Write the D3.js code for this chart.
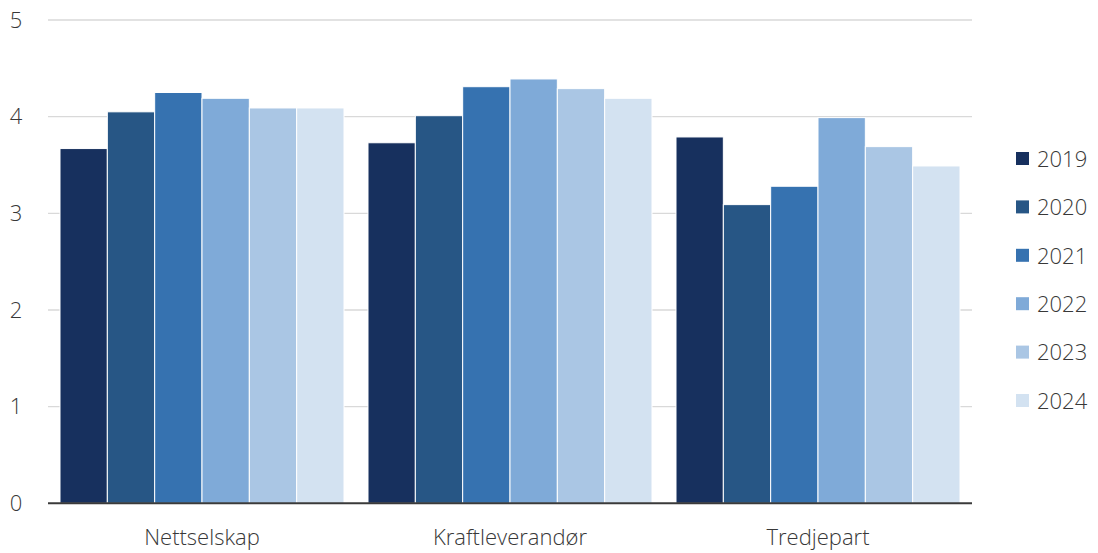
<!DOCTYPE html>
<html>
<head>
<meta charset="utf-8">
<script src="https://cdn.jsdelivr.net/npm/d3@7"></script>
<style>
  html, body { margin: 0; padding: 0; background: #ffffff; }
  svg text { font-family: "Open Sans", "Noto Sans", sans-serif; font-weight: 300; fill: #383838; }
</style>
</head>
<body>
<svg id="chart" width="1098" height="553"></svg>
<script>
// Categories, series and ticks
const categories = ["Nettselskap", "Kraftleverandør", "Tredjepart"];
const years = ["2019", "2020", "2021", "2022", "2023", "2024"];
const values2019 = [3.67, 3.73, 3.79];
const values2020 = [4.05, 4.01, 3.09];
const values2021 = [4.25, 4.31, 3.28];
const values2022 = [4.19, 4.39, 3.99];
const values2023 = [4.09, 4.29, 3.69];
const values2024 = [4.09, 4.19, 3.49];
const yTicks = [0, 1, 2, 3, 4, 5];
const colors = ["#17305e", "#275685", "#3672b0", "#7faad8", "#aac6e4", "#d3e2f1"];

const seriesValues = [values2019, values2020, values2021, values2022, values2023, values2024];
const rows = [];
categories.forEach((c, ci) => {
  years.forEach((y, yi) => rows.push({ category: c, year: y, value: seriesValues[yi][ci] }));
});

const svg = d3.select("#chart");
const margin = { left: 48, right: 126, top: 20, bottom: 50 };
const width = 1098, height = 553;

const x0 = d3.scaleBand().domain(categories)
  .range([margin.left, width - margin.right])
  .paddingInner(24 / 308).paddingOuter(12 / 308);
const x1 = d3.scaleBand().domain(years).range([0, x0.bandwidth()]);
const y = d3.scaleLinear().domain([0, 5]).range([503.3, 20]);
const color = d3.scaleOrdinal().domain(years).range(colors);

// Gridlines
svg.append("g").selectAll("line").data(yTicks.filter(t => t > 0)).join("line")
  .attr("x1", margin.left).attr("x2", width - margin.right)
  .attr("y1", d => y(d)).attr("y2", d => y(d))
  .attr("stroke", "#d9d9d9").attr("stroke-width", 1.3);

// Y tick labels
const yAxis = d3.axisLeft(y).tickValues(yTicks).tickFormat(d3.format("d")).tickSize(0).tickPadding(0);
const gy = svg.append("g").attr("transform", "translate(16,0)").call(yAxis);
gy.select(".domain").remove();
gy.selectAll("text").attr("font-size", 22).attr("text-anchor", "middle")
  .attr("font-family", "'Open Sans', sans-serif").attr("font-weight", 300).attr("fill", "#383838");

// Bars
svg.append("g").selectAll("rect").data(rows).join("rect")
  .attr("x", d => x0(d.category) + x1(d.year))
  .attr("width", x1.bandwidth())
  .attr("y", d => y(d.value))
  .attr("height", d => y(0) - y(d.value))
  .attr("fill", d => color(d.year))
  .attr("stroke", "#ffffff").attr("stroke-width", 1);

// Baseline
svg.append("line")
  .attr("x1", margin.left).attr("x2", width - margin.right)
  .attr("y1", y(0)).attr("y2", y(0))
  .attr("stroke", "#3a3a3a").attr("stroke-width", 2);

// Category labels
const xAxis = d3.axisBottom(x0).tickSize(0).tickPadding(0);
const gx = svg.append("g").attr("transform", "translate(0,545)").call(xAxis);
gx.select(".domain").remove();
gx.selectAll("text").attr("font-size", 22).attr("dy", 0)
  .attr("font-family", "'Open Sans', sans-serif").attr("font-weight", 300).attr("fill", "#383838");

// Legend
const legend = svg.append("g").attr("transform", "translate(1016,159)");
const items = legend.selectAll("g").data(years).join("g")
  .attr("transform", (d, i) => `translate(0,${i * 48.4})`);
items.append("rect").attr("x", 0).attr("y", -7).attr("width", 13).attr("height", 13)
  .attr("fill", d => color(d));
items.append("text").attr("x", 21).attr("y", 0).attr("dy", "0.35em")
  .attr("font-size", 22).text(d => d);
</script>
</body>
</html>
